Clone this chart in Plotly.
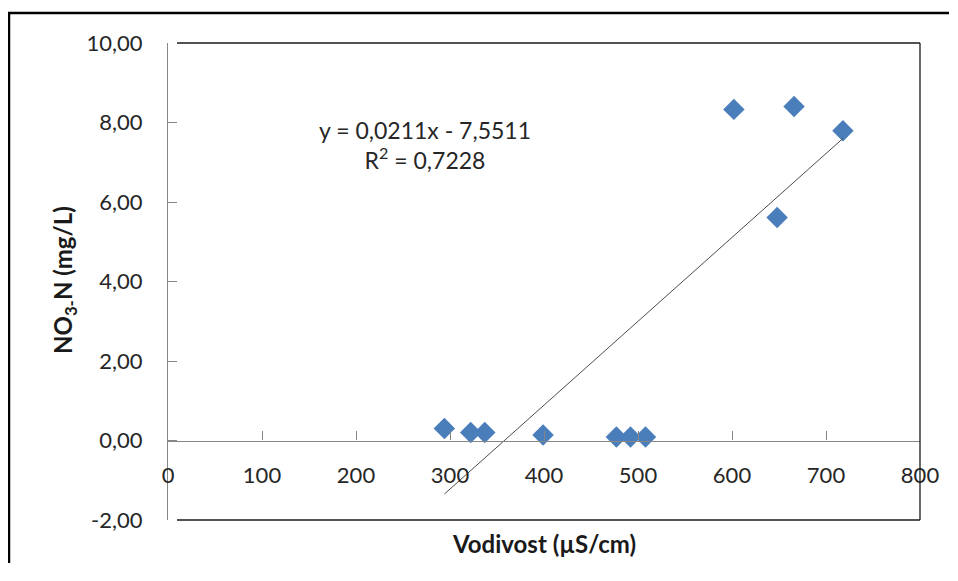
import plotly.graph_objects as go

# Data
conductivity = [294, 322, 337, 399, 477, 492, 508, 602, 666, 718, 648]   # µS/cm
nitrate_n = [0.30, 0.20, 0.20, 0.14, 0.09, 0.09, 0.09, 8.33, 8.40, 7.79, 5.61]  # mg/L
trend_slope = 0.0211
trend_intercept = -7.5511
r_squared = 0.7228
y_tick_values = [-2, 0, 2, 4, 6, 8, 10]
y_tick_labels = ["-2,00", "0,00", "2,00", "4,00", "6,00", "8,00", "10,00"]

x_min, x_max = min(conductivity), max(conductivity)
trend_x = [x_min, x_max]
trend_y = [trend_slope * v + trend_intercept for v in trend_x]

FONT = "Lato"
AX = "#868686"
TXT = "#262626"

W, H = 942, 555
L, R, T, B = 160, 30, 35, 43
PW, PH = W - L - R, H - T - B   # 752 x 477 plot area


def px(x_screen):
    """screen x (figure drawn at 8px page offset) -> paper fraction"""
    return (x_screen - 8 - L) / PW


def py(y_screen):
    return (H - B - (y_screen - 8)) / PH


fig = go.Figure()
fig.add_trace(go.Scatter(
    x=conductivity, y=nitrate_n, mode="markers",
    marker=dict(symbol="diamond", size=16.5, color="#4a7ebb", line=dict(width=0)),
    showlegend=False, hoverinfo="x+y",
))
fig.add_trace(go.Scatter(
    x=trend_x, y=trend_y, mode="lines",
    line=dict(color="#4d4d4d", width=1),
    showlegend=False, hoverinfo="skip",
))

fig.update_layout(
    width=W, height=H,
    margin=dict(l=L, r=R, t=T, b=B),
    paper_bgcolor="white", plot_bgcolor="white",
    separators=",.",
    font=dict(family=FONT, size=22, color=TXT),
    xaxis=dict(
        range=[0, 800], dtick=100, tick0=0, automargin=False,
        showgrid=False, zeroline=False,
        showline=True, linecolor=AX, linewidth=1.3,
        ticks="inside", ticklen=9, tickcolor=AX, tickwidth=1.3,
        anchor="free", position=2 / 12,
        ticklabelstandoff=15,
        tickfont=dict(family=FONT, size=22, color=TXT),
    ),
    yaxis=dict(
        range=[-2, 10], tickvals=y_tick_values, ticktext=y_tick_labels, automargin=False,
        showgrid=False, zeroline=False,
        showline=True, linecolor=AX, linewidth=1.3,
        ticks="inside", ticklen=9, tickcolor=AX, tickwidth=1.3,
        ticklabelstandoff=20,
        tickfont=dict(family=FONT, size=22, color=TXT),
    ),
)

# plot-area border (top, right, bottom)
for x0, y0, x1, y1 in [(0.012, 1, 1, 1), (1, 1, 1, 0), (1, 0, 0.012, 0)]:
    fig.add_shape(type="line", xref="paper", yref="paper", x0=x0, y0=y0, x1=x1, y1=y1,
                  line=dict(color="#1a1a1a", width=1.3), layer="above")

# outer chart frame: left and top edges only (top edge stops just short of the figure edge)
fig.add_shape(type="line", xref="paper", yref="paper",
              x0=px(8), y0=py(13), x1=px(8 + W - 1), y1=py(13),
              line=dict(color="black", width=2.5), layer="above")
fig.add_shape(type="line", xref="paper", yref="paper",
              x0=px(9), y0=py(13), x1=px(9), y1=py(8 + H),
              line=dict(color="black", width=2.5), layer="above")

# trendline equation
fig.add_annotation(
    xref="paper", yref="paper", x=px(425), y=py(145), xanchor="center", yanchor="middle",
    text=f"y = {str(trend_slope).replace('.', ',')}x - {str(-trend_intercept).replace('.', ',')}<br>R<sup>2</sup> = {str(r_squared).replace('.', ',')}",
    showarrow=False, align="center",
    font=dict(family=FONT, size=23, color=TXT),
)

# axis titles
fig.add_annotation(
    xref="paper", yref="paper", x=0.5, y=py(543), xanchor="center", yanchor="middle",
    text="<b>Vodivost (µS/cm)</b>", showarrow=False,
    font=dict(family=FONT, size=24, color="#1a1a1a"),
)
fig.add_annotation(
    xref="paper", yref="paper", x=px(64), y=py(280), xanchor="center", yanchor="middle",
    text="<b>NO<sub>3-</sub>N (mg/L)</b>", showarrow=False, textangle=-90,
    font=dict(family=FONT, size=24, color="#1a1a1a"),
)

fig.write_html("out.html", config={"displayModeBar": False})
